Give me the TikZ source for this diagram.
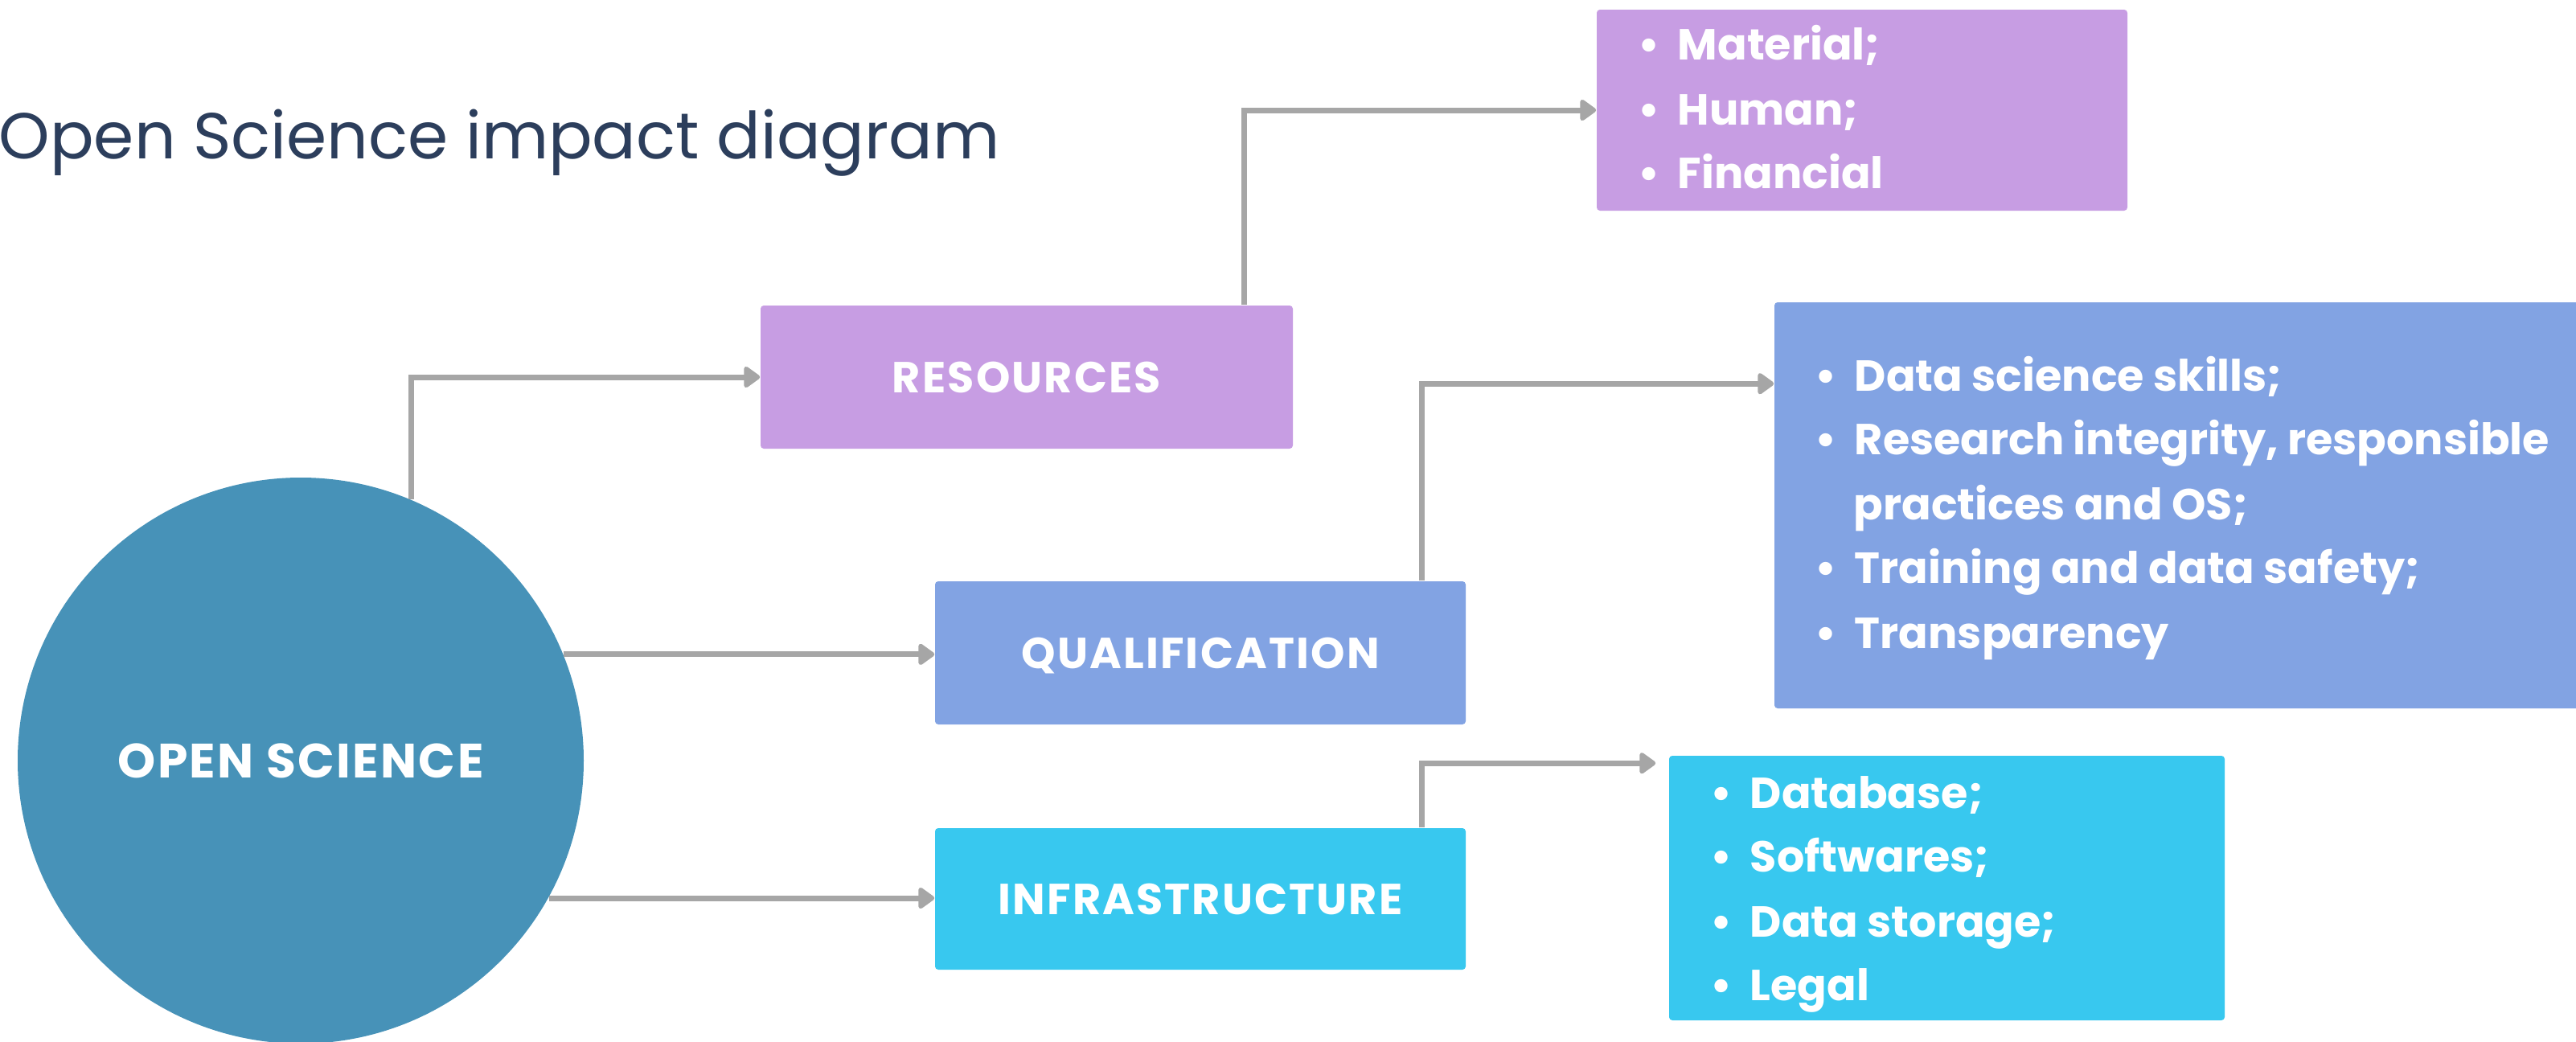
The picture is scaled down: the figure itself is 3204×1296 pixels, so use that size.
\documentclass[tikz,border=0pt]{standalone}
\usepackage{fontspec}
\setmainfont{Poppins}
\usetikzlibrary{calc,arrows.meta}
\definecolor{respurple}{HTML}{C79DE3}
\definecolor{qualblue}{HTML}{82A3E3}
\definecolor{infcyan}{HTML}{38C8EF}
\definecolor{oscircle}{HTML}{4792B8}
\definecolor{arrgray}{HTML}{A6A6A6}
\definecolor{titlenavy}{HTML}{2C3E5C}
\begin{document}
\begin{tikzpicture}[x=0.25pt,y=-0.25pt,
  box/.style={rectangle,rounded corners=1pt,inner sep=0pt,text=white,text depth=0pt,font=\fontsize{13.5pt}{16pt}\selectfont\bfseries\addfontfeature{LetterSpace=4}},
  listline/.style={anchor=base west,inner sep=0pt,text=white,font=\fontsize{13.5pt}{16pt}\selectfont\bfseries},
  arr/.style={draw=arrgray,line width=1.75pt,-{Triangle[round,length=5.5pt,width=7.5pt]}}]
\useasboundingbox (0,0) rectangle (3204,1296);
\fill[white] (0,0) rectangle (3204,1296);
% title
\node[anchor=base west,inner sep=0pt,text=titlenavy,font=\fontsize{20.2pt}{24pt}\selectfont] (title) at (-2,197) {Open Science impact diagram};
% boxes
\node[box,fill=respurple,minimum width=165.5pt,minimum height=44.5pt] (res) at (1277,469) {RESOURCES};
\node[box,fill=qualblue,minimum width=165pt,minimum height=44.5pt] (qual) at (1493,812) {QUALIFICATION};
\node[box,fill=infcyan,minimum width=165pt,minimum height=44pt] (infra) at (1493,1118) {INFRASTRUCTURE};
\node[box,fill=respurple,minimum width=165pt,minimum height=62.5pt] (mat) at (2316,137) {};
\node[box,fill=qualblue,minimum width=253.25pt,minimum height=126.25pt] (ds) at (2713.5,628.5) {};
\node[box,fill=infcyan,minimum width=172.75pt,minimum height=82.25pt] (db) at (2421.5,1104.5) {};
% connectors
\coordinate (dsin) at ($(ds.north west)+(0,102)$);
\coordinate (dbin) at ($(db.north west)+(-16,10)$);
\coordinate (resup) at ($(res.north east)+(-61,0)$);
\coordinate (qualup) at ($(qual.north east)+(-55,0)$);
\coordinate (infup) at ($(infra.north east)+(-55,0)$);
\node[circle,fill=oscircle,minimum size=176pt,inner sep=0pt,text=white,text depth=0pt,font=\fontsize{15pt}{18pt}\selectfont\bfseries\addfontfeature{LetterSpace=4}] (os) at (374,946) {OPEN SCIENCE};
\draw[arr] (os.67.8) |- (res.west);
\draw[arr] (os.22.2) -- (os.22.2 -| qual.west);
\draw[arr] (os.-29.2) -- (os.-29.2 -| infra.west);
\draw[arr] (resup) |- (mat.west);
\draw[arr] (qualup) |- (dsin);
\draw[arr] (infup) |- (dbin);
% list texts
\newcommand{\bul}{\makebox[12.25pt][l]{\textbullet}}
\node[listline] (m1) at (2037,75) {\bul Material;};
\node[listline] (m2) at (2037,155) {\bul Human;};
\node[listline] (m3) at (2037,234) {\bul Financial};
\node[listline] (d1) at (2257,486) {\bul Data science skills;};
\node[listline] (d2) at (2257,565) {\bul Research integrity, responsible};
\node[listline] (d3) at (2305,646) {practices and OS;};
\node[listline] (d4) at (2257,725) {\bul Training and data safety;};
\node[listline] (d5) at (2257,806) {\bul Transparency};
\node[listline] (b1) at (2127,1005) {\bul Database;};
\node[listline] (b2) at (2127,1084) {\bul Softwares;};
\node[listline] (b3) at (2127,1165) {\bul Data storage;};
\node[listline] (b4) at (2127,1244) {\bul Legal};
\end{tikzpicture}
\end{document}
